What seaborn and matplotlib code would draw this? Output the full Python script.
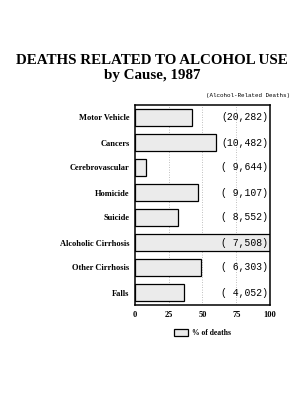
import matplotlib
matplotlib.use("Agg")
import matplotlib.pyplot as plt
import seaborn as sns
import pandas as pd

causes = ["Motor Vehicle", "Cancers", "Cerebrovascular", "Homicide", "Suicide",
          "Alcoholic Cirrhosis", "Other Cirrhosis", "Falls"]
pct_deaths = [42, 60, 8, 47, 32, 100, 49, 36]
death_counts = ["(20,282)", "(10,482)", "( 9,644)", "( 9,107)", "( 8,552)",
                "( 7,508)", "( 6,303)", "( 4,052)"]
xticks = [0, 25, 50, 75, 100]

df = pd.DataFrame({"cause": causes, "pct": pct_deaths})

sns.set_theme(style="white")
plt.rcParams["font.family"] = ["Liberation Serif", "DejaVu Serif"]
plt.rcParams["text.color"] = "black"
plt.rcParams["xtick.color"] = "black"
plt.rcParams["ytick.color"] = "black"
plt.rcParams["axes.labelcolor"] = "black"

fig = plt.figure(figsize=(3.04, 4.0), dpi=100)
ax = fig.add_axes([0.444, 0.2375, 0.444, 0.5])

sns.barplot(data=df, x="pct", y="cause", orient="h", color="#ebebeb",
            edgecolor="black", linewidth=0.9, width=0.68, ax=ax,
            label="% of deaths", saturation=1)

ax.set_xlim(0, 100)
ax.set_xticks(xticks)
ax.set_xticklabels([str(t) for t in xticks], fontsize=6, fontweight="bold")
ax.set_yticklabels(causes, fontsize=6, fontweight="bold")
ax.set_xlabel("")
ax.set_ylabel("")
for g in [25, 50, 75]:
    ax.axvline(g, color="#aaaaaa", linestyle=(0, (1, 2)), linewidth=0.6, zorder=0)
for s in ax.spines.values():
    s.set_color("black")
    s.set_linewidth(1.1)
ax.tick_params(axis="y", direction="in", length=3, width=0.6, color="black", pad=4)
ax.tick_params(axis="x", length=0, pad=4)

for i, txt in enumerate(death_counts):
    ax.text(98.5, i, txt, ha="right", va="center", fontsize=7,
            family=["Liberation Mono", "DejaVu Sans Mono"])

fig.text(0.955, 0.76, "(Alcohol-Related Deaths)", ha="right", va="center",
         fontsize=4.2, family=["Liberation Mono", "DejaVu Sans Mono"])
fig.text(0.5, 0.85, "DEATHS RELATED TO ALCOHOL USE", ha="center", va="center",
         fontsize=10.8, fontweight="bold")
fig.text(0.5, 0.812, "by Cause, 1987", ha="center", va="center",
         fontsize=10.8, fontweight="bold")

leg = ax.legend(loc="upper center", bbox_to_anchor=(0.5, -0.085), frameon=False,
                handlelength=1.8, handleheight=1.1, handletextpad=0.6,
                prop={"weight": "bold", "size": 5.5, "family": "Liberation Serif"})

fig.savefig("out.png", dpi=100, facecolor="white")
